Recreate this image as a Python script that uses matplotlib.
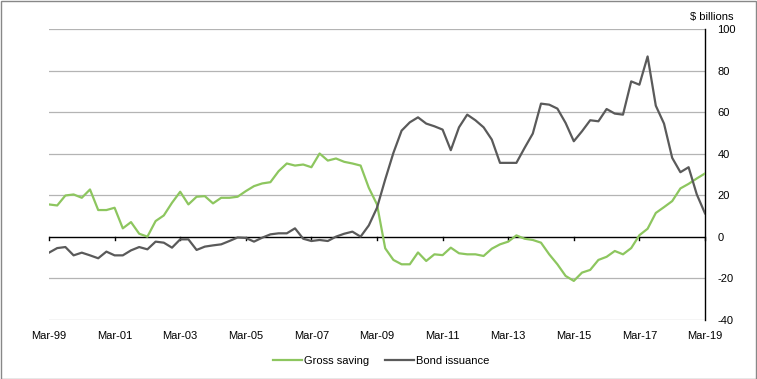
import matplotlib.pyplot as plt
from matplotlib.patches import Rectangle

plt.rcParams['font.family'] = ['Liberation Sans', 'DejaVu Sans']
plt.rcParams['axes.unicode_minus'] = False

# quarterly, Mar-99 .. Mar-19
gross_saving = [15.6, 15.1, 19.9, 20.4, 18.8, 22.8, 12.9, 12.9, 14.0, 4.1,
                7.1, 1.5, 0.1, 7.6, 10.3, 16.4, 21.7, 15.6, 19.3, 19.6,
                16.1, 18.8, 18.8, 19.3, 22.0, 24.4, 25.7, 26.3, 31.6, 35.3,
                34.3, 34.8, 33.5, 40.1, 36.7, 37.7, 36.1, 35.3, 34.3, 23.6,
                15.6, -5.5, -11.1, -13.2, -13.2, -7.5, -11.6, -8.4, -8.8, -5.2,
                -7.9, -8.4, -8.4, -9.2, -5.7, -3.6, -2.3, 0.7, -0.9, -1.5,
                -2.8, -8.4, -13.2, -18.8, -21.2, -17.2, -15.9, -11.1, -9.6, -6.8,
                -8.4, -5.4, 0.8, 3.9, 11.5, 14.3, 17.2, 23.3, 25.5, 28.1,
                30.5]
bond_issuance = [-7.6, -5.4, -4.9, -8.9, -7.6, -8.9, -10.3, -7.1, -8.9, -8.9,
                 -6.5, -4.9, -6.0, -2.3, -2.8, -5.2, -1.2, -1.2, -6.3, -4.7,
                 -4.1, -3.6, -2.0, -0.3, -0.5, -2.3, -0.4, 1.2, 1.7, 1.7,
                 4.1, -0.9, -2.0, -1.5, -2.0, 0.1, 1.5, 2.5, 0.1, 5.5,
                 14.0, 27.6, 40.4, 51.1, 55.1, 57.5, 54.5, 53.2, 51.6, 41.7,
                 52.7, 58.8, 56.1, 52.7, 46.8, 35.6, 35.6, 35.6, 42.8, 49.7,
                 64.1, 63.6, 61.7, 54.8, 46.0, 50.8, 56.1, 55.6, 61.5, 59.3,
                 58.8, 74.8, 73.2, 86.8, 63.1, 54.5, 38.0, 31.1, 33.5, 20.4,
                 11.3]
tick_labels = ['Mar-99', 'Mar-01', 'Mar-03', 'Mar-05', 'Mar-07', 'Mar-09',
               'Mar-11', 'Mar-13', 'Mar-15', 'Mar-17', 'Mar-19']

fig = plt.figure(figsize=(7.57, 3.79), dpi=100)
ax = fig.add_axes([49/757, 59/379, 656/757, 291/379])

x = range(len(gross_saving))
ax.plot(x, gross_saving, color='#8dc65f', lw=1.6, label='Gross saving', zorder=3)
ax.plot(x, bond_issuance, color='#5a5a5a', lw=1.6, label='Bond issuance', zorder=3)

ax.set_xlim(0, 80)
ax.set_ylim(-40, 100)
for v in [-40, -20, 20, 40, 60, 80, 100]:
    ax.axhline(v, color='#b4b4b4', lw=0.9, zorder=1)
ax.axhline(0, color='black', lw=1, zorder=2)

for s in ['top', 'left', 'bottom']:
    ax.spines[s].set_visible(False)
ax.spines['right'].set_color('black')
ax.spines['right'].set_linewidth(1)

ax.yaxis.tick_right()
ax.set_yticks(range(-40, 101, 20))
ax.tick_params(axis='y', length=0, pad=9, labelsize=8)
for lab in ax.get_yticklabels():
    lab.set_horizontalalignment('left')

ax.set_xticks(range(0, 81, 8))
ax.set_xticklabels(tick_labels)
ax.tick_params(axis='x', length=0, labelsize=8, pad=8)
# small ticks hanging from the zero line
for t in range(0, 81, 8):
    ax.plot([t, t], [0, -1.6], color='black', lw=1, zorder=2, clip_on=False)

fig.text(733/757, 1 - 17/379, '$ billions', ha='right', va='center', fontsize=8)

fig.legend(loc='center', bbox_to_anchor=(381/757, 1 - 361/379), ncol=2,
           frameon=False, fontsize=8, handlelength=2.6, handletextpad=0.2,
           columnspacing=1.4)

fig.patches.append(Rectangle((0.5/757, 0.5/379), 1 - 1.5/757, 1 - 1.5/379,
                             transform=fig.transFigure, fill=False,
                             edgecolor='#888888', lw=1))

fig.savefig('out.png', dpi=100)
